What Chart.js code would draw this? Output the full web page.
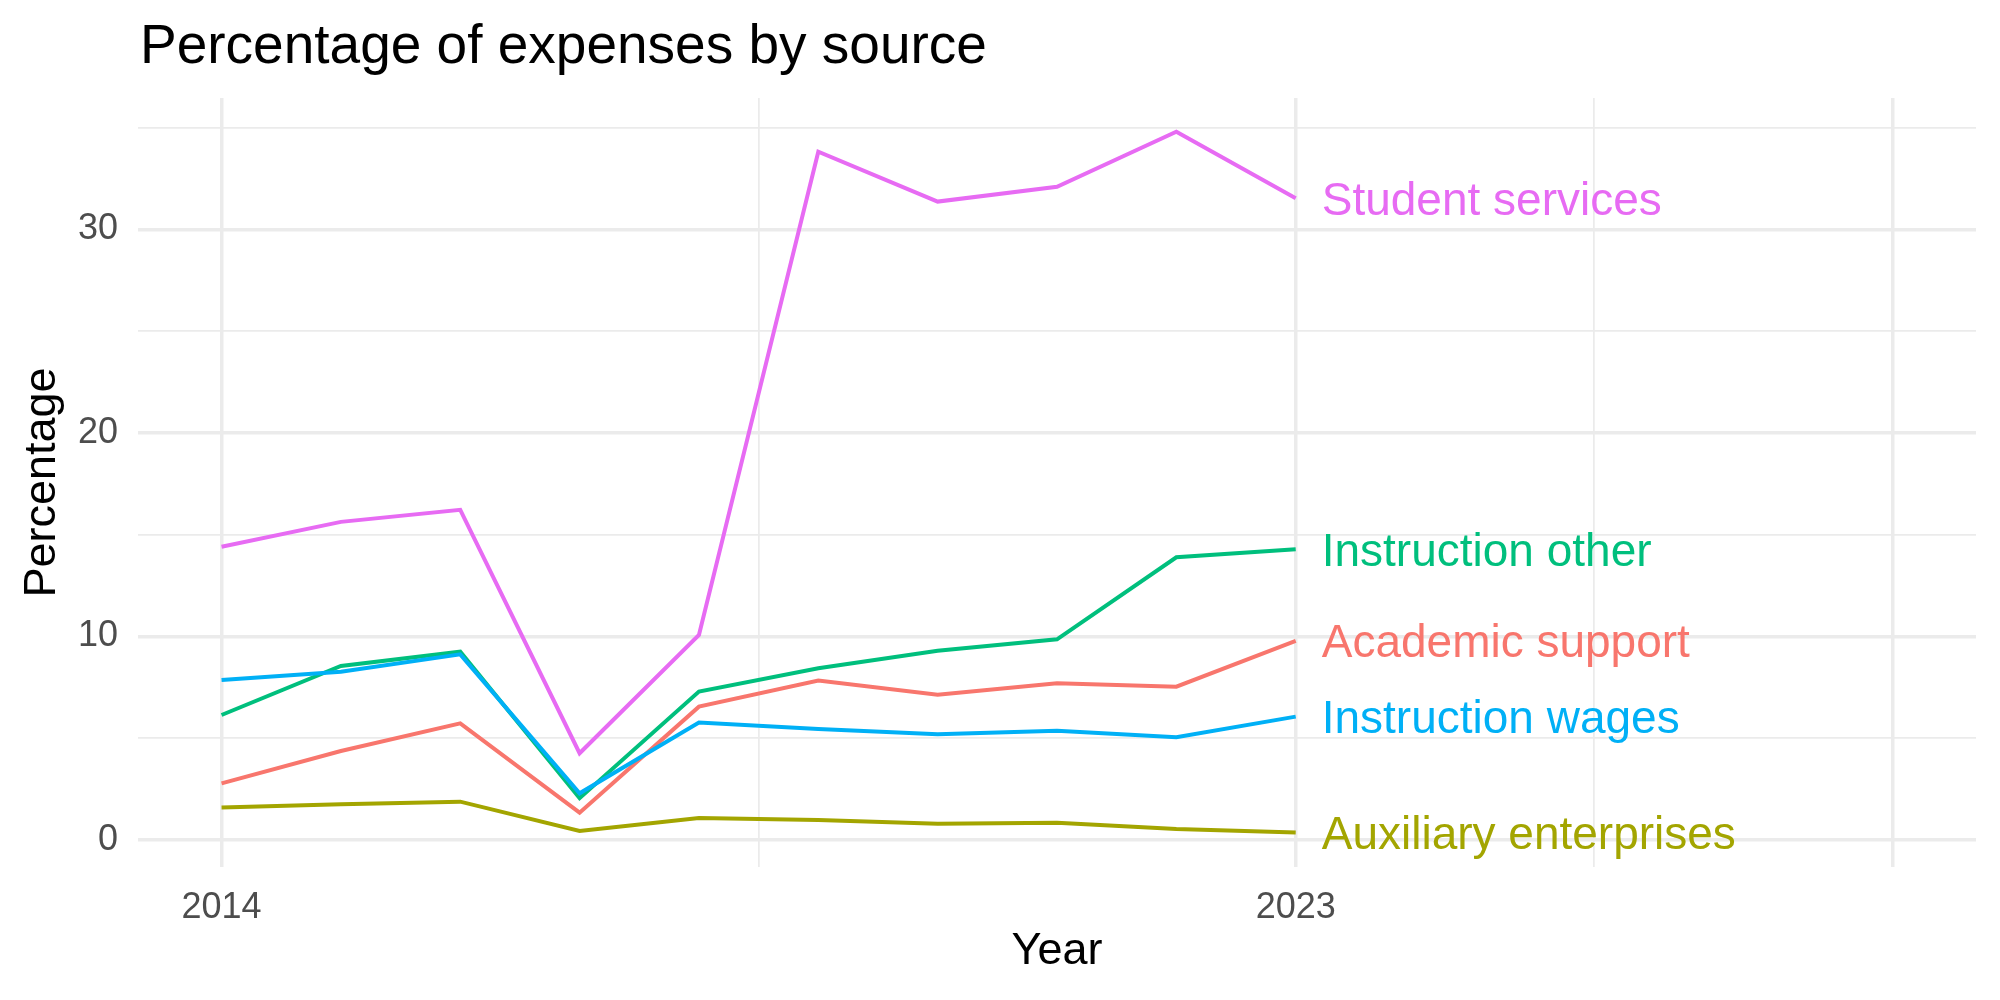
<!DOCTYPE html>
<html>
<head>
<meta charset="utf-8">
<script src="https://cdn.jsdelivr.net/npm/chart.js@4/dist/chart.umd.min.js"></script>
<style>
  html, body { margin: 0; padding: 0; background: #fff; }
  canvas { display: block; }
</style>
</head>
<body>
<canvas id="expenseChart" width="2000" height="1000"></canvas>
<script>
// Data
const years = [2014, 2015, 2016, 2017, 2018, 2019, 2020, 2021, 2022, 2023];
const seriesNames = ['Academic support', 'Auxiliary enterprises', 'Instruction other', 'Instruction wages', 'Student services'];
const academicSupport = [2.78, 4.37, 5.73, 1.34, 6.55, 7.83, 7.13, 7.70, 7.53, 9.78];
const auxiliaryEnterprises = [1.59, 1.75, 1.88, 0.44, 1.08, 0.98, 0.80, 0.85, 0.54, 0.36];
const instructionOther = [6.14, 8.55, 9.25, 2.05, 7.29, 8.44, 9.30, 9.86, 13.89, 14.28];
const instructionWages = [7.86, 8.27, 9.12, 2.29, 5.77, 5.45, 5.19, 5.37, 5.05, 6.06];
const studentServices = [14.41, 15.63, 16.22, 4.26, 10.07, 33.82, 31.37, 32.10, 34.80, 31.53];
const seriesColors = ['#F8766D', '#A3A500', '#00BF7D', '#00B0F6', '#E76BF3'];

// Axis breaks
const xGridBreaks = [2014, 2018.5, 2023, 2025.5, 2028];
const xMajorBreaks = [2014, 2023, 2028];
const xLabelBreaks = [2014, 2023];
const yGridBreaks = [0, 5, 10, 15, 20, 25, 30, 35];
const yLabelBreaks = [0, 10, 20, 30];

const FONT = "'Liberation Sans', Arial, sans-serif";
const allSeries = [academicSupport, auxiliaryEnterprises, instructionOther, instructionWages, studentServices];

// Title and direct labels at the line ends
const annotatePlugin = {
    id: 'annotate',
    afterDraw(chart) {
        const ctx = chart.ctx;
        const xs = chart.scales.x;
        const ys = chart.scales.y;
        ctx.save();
        ctx.fillStyle = '#000';
        ctx.font = '55px ' + FONT;
        ctx.textAlign = 'left';
        ctx.textBaseline = 'alphabetic';
        ctx.fillText('Percentage of expenses by source', 140, 63);

        ctx.font = '46px ' + FONT;
        allSeries.forEach((vals, i) => {
            const last = vals.length - 1;
            const px = xs.getPixelForValue(years[last]) + 26;
            const py = ys.getPixelForValue(vals[last]) + 16.5;
            ctx.fillStyle = seriesColors[i];
            ctx.fillText(seriesNames[i], px, py);
        });
        ctx.restore();
    }
};

const datasets = allSeries.map((vals, i) => ({
    label: seriesNames[i],
    data: vals.map((v, j) => ({ x: years[j], y: v })),
    borderColor: seriesColors[i],
    backgroundColor: seriesColors[i],
    borderWidth: 4,
    pointRadius: 0,
    tension: 0,
    fill: false,
    order: allSeries.length - i // later series drawn on top
}));

new Chart(document.getElementById('expenseChart').getContext('2d'), {
    type: 'line',
    data: { datasets },
    plugins: [annotatePlugin],
    options: {
        responsive: false,
        animation: false,
        layout: { padding: { top: 98, right: 24, left: 0, bottom: 0 } },
        plugins: { legend: { display: false }, tooltip: { enabled: false } },
        scales: {
            x: {
                type: 'linear',
                min: 2013.3,
                max: 2028.7,
                afterBuildTicks: (s) => { s.ticks = xGridBreaks.map(v => ({ value: v })); },
                afterFit: (s) => { s.height = 133; },
                border: { display: false },
                grid: {
                    color: '#EBEBEB',
                    lineWidth: (c) => xMajorBreaks.includes(c.tick.value) ? 3.5 : 1.75,
                    drawTicks: false
                },
                ticks: {
                    autoSkip: false,
                    maxRotation: 0,
                    padding: 19,
                    color: '#4D4D4D',
                    font: { family: FONT, size: 36 },
                    callback: (v) => xLabelBreaks.includes(v) ? String(v) : ''
                },
                title: {
                    display: true,
                    text: 'Year',
                    color: '#000',
                    font: { family: FONT, size: 45 },
                    padding: { top: 0, bottom: 21 }
                }
            },
            y: {
                type: 'linear',
                min: -1.33,
                max: 36.46,
                afterBuildTicks: (s) => { s.ticks = yGridBreaks.map(v => ({ value: v })); },
                afterFit: (s) => { s.width = 138; },
                border: { display: false },
                grid: {
                    color: '#EBEBEB',
                    lineWidth: (c) => yLabelBreaks.includes(c.tick.value) ? 3.5 : 1.75,
                    drawTicks: false
                },
                ticks: {
                    autoSkip: false,
                    padding: 20,
                    color: '#4D4D4D',
                    font: { family: FONT, size: 36 },
                    callback: (v) => yLabelBreaks.includes(v) ? String(v) : ''
                },
                title: {
                    display: true,
                    text: 'Percentage',
                    color: '#000',
                    font: { family: FONT, size: 45 },
                    padding: { top: 16, bottom: 0 }
                }
            }
        }
    }
});
</script>
</body>
</html>
